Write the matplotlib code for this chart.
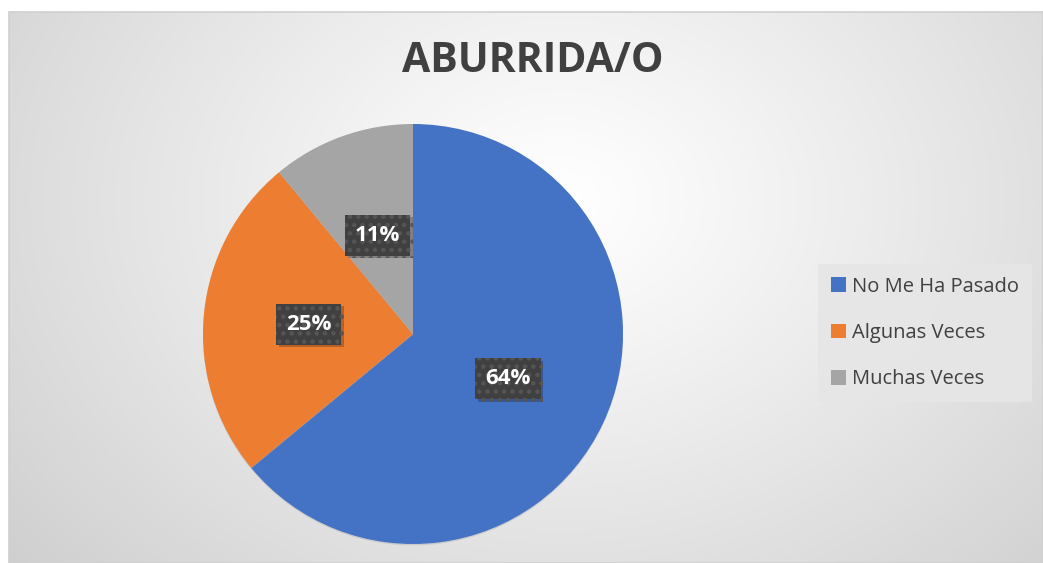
import numpy as np
import matplotlib
matplotlib.use("Agg")
import matplotlib.pyplot as plt
import matplotlib.patheffects as pe
from matplotlib.patches import Rectangle

# ---- data ----
title = "ABURRIDA/O"
categories = ["No Me Ha Pasado", "Algunas Veces", "Muchas Veces"]
values = [64, 25, 11]
colors = ["#4472C4", "#ED7D31", "#A5A5A5"]

W, H = 1043, 563
fig = plt.figure(figsize=(W / 100, H / 100), dpi=100)
fig.patch.set_facecolor("white")

# ---- background with radial gradient ----
bg = fig.add_axes([0, 0, 1, 1])
bg.set_xlim(0, W)
bg.set_ylim(H, 0)
bg.axis("off")
yy, xx = np.mgrid[0:H, 0:W]
cx, cy = 560, 200
d = np.sqrt((xx - cx) ** 2 + ((yy - cy) * 1.3) ** 2)
d = d / d.max()
g = 1.0 - 0.19 * np.clip(d, 0, 1) ** 1.1
img = np.dstack([g, g, g])
x0, y0 = 9, 12
bg.imshow(img[y0:H, x0:W], extent=(x0, W, H, y0), aspect="auto", zorder=0)
bg.add_patch(Rectangle((x0, y0), W - x0, H - y0, fill=False, ec="#d0d0d0", lw=1.2, zorder=1))

fig.text(533 / W, 1 - 62 / H, title, ha="center", va="center",
         fontsize=29.5, fontweight="bold", color="#404040", family="Open Sans")

# ---- pie ----
cxp, cyp, r = 413, 334, 210
ax = fig.add_axes([(cxp - r) / W, (H - cyp - r) / H, 2 * r / W, 2 * r / H])
wedges, texts, autotexts = ax.pie(
    values, colors=colors, startangle=90, counterclock=False,
    autopct=lambda p: f"{p:.0f}%", pctdistance=0.5,
    wedgeprops=dict(linewidth=0),
    textprops=dict(color="white", fontsize=16, fontweight="bold", family="Open Sans"),
)
ax.set_xlim(-1, 1)
ax.set_ylim(-1, 1)
ax.set_aspect("equal")
for wdg in wedges:
    wdg.set_path_effects([pe.SimplePatchShadow(offset=(0, -1), shadow_rgbFace="#999999", alpha=0.3), pe.Normal()])

plt.rcParams["hatch.linewidth"] = 2.0
for t in autotexts:
    t.set_bbox(dict(boxstyle="square,pad=0.45", fc="#404040", ec="#555555", lw=0, hatch=".."))
    bp = t.get_bbox_patch()
    bp.set_path_effects([pe.SimplePatchShadow(offset=(2, -2), shadow_rgbFace="black", alpha=0.22), pe.Normal()])

# ---- legend ----
leg = fig.legend(wedges, categories, loc="center left", bbox_to_anchor=(818 / W, 1 - 333 / H),
                 frameon=True, fancybox=False, handlelength=0.75, handleheight=0.75,
                 handletextpad=0.3, labelspacing=1.3, borderpad=0.65, borderaxespad=0,
                 prop=dict(family="Open Sans", size=14.5))
leg.get_frame().set_facecolor("#e6e6e6")
leg.get_frame().set_edgecolor("none")
leg.get_frame().set_alpha(0.9)
for t in leg.get_texts():
    t.set_color("#404040")
for h in leg.legend_handles:
    h.set_path_effects([])

fig.savefig("out.png", dpi=100)
